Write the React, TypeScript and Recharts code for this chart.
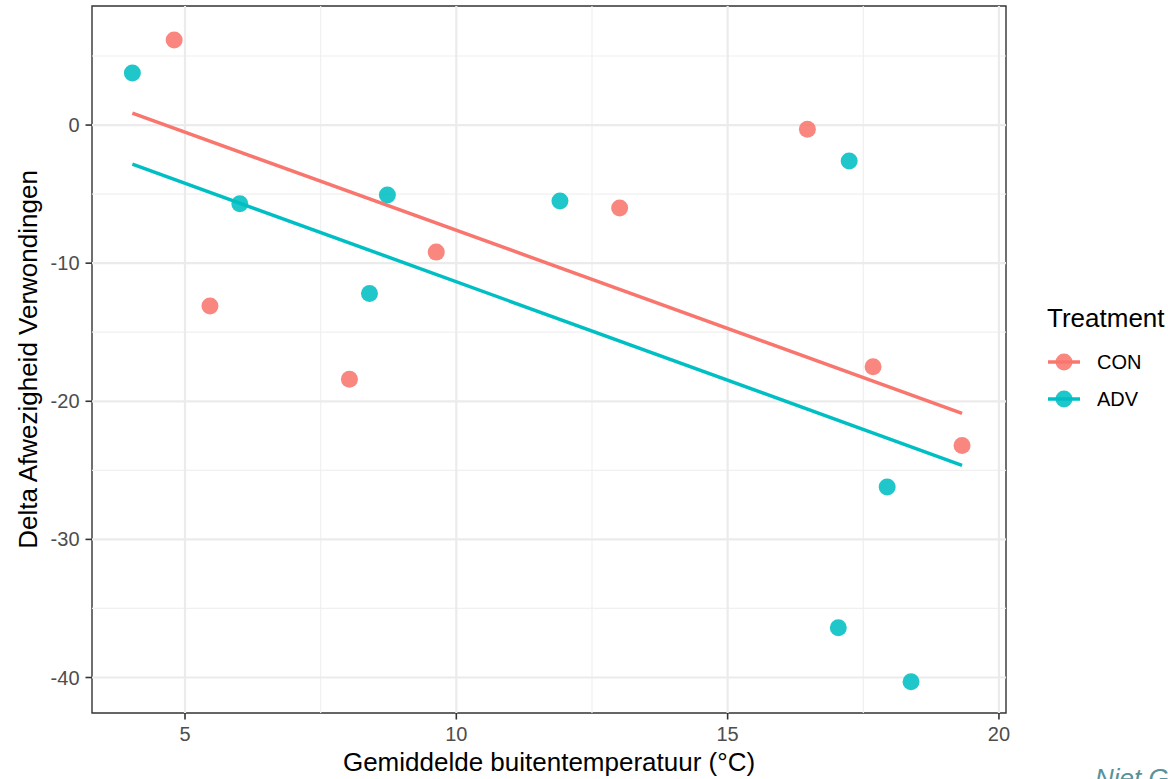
import React from "react";
import {
  ComposedChart,
  Scatter,
  XAxis,
  YAxis,
  ReferenceLine,
  ReferenceArea,
  Label,
} from "recharts";

// ---- data ----
const conPoints = [
  { x: 4.8, y: 6.16 },
  { x: 5.46, y: -13.1 },
  { x: 8.03, y: -18.4 },
  { x: 9.63, y: -9.2 },
  { x: 13.01, y: -6.0 },
  { x: 16.47, y: -0.3 },
  { x: 17.68, y: -17.5 },
  { x: 19.32, y: -23.2 },
];
const advPoints = [
  { x: 4.03, y: 3.77 },
  { x: 6.01, y: -5.7 },
  { x: 8.73, y: -5.07 },
  { x: 8.4, y: -12.2 },
  { x: 11.91, y: -5.5 },
  { x: 17.24, y: -2.6 },
  { x: 17.94, y: -26.2 },
  { x: 17.04, y: -36.4 },
  { x: 18.38, y: -40.3 },
];
const conFit = [
  { x: 4.03, y: 0.87 },
  { x: 19.32, y: -20.87 },
];
const advFit = [
  { x: 4.03, y: -2.83 },
  { x: 19.32, y: -24.64 },
];
const xTicks = [5, 10, 15, 20];
const yTicks = [-40, -30, -20, -10, 0];
const xMinor = [7.5, 12.5, 17.5];
const yMinor = [-35, -25, -15, -5, 5];
const xDomain = [3.286, 20.13];
const yDomain = [-42.57, 8.62];
const seriesNames = ["CON", "ADV"];
const seriesColors = ["#F8766D", "#00BFC4"];
const xTitle = "Gemiddelde buitentemperatuur (°C)";
const yTitle = "Delta Afwezigheid Verwondingen";
const legendTitle = "Treatment";
const watermark = "Niet Gepubliceerd";

const FONT = "'Liberation Sans', Arial, Helvetica, sans-serif";

const dot = (color: string) => (props: any) => (
  <circle cx={props.cx} cy={props.cy} r={8.5} fill={color} fillOpacity={0.88} />
);
const noShape = () => <g />;

export default function App() {
  const W = 1168;
  const H = 779;
  return (
    <div style={{ position: "absolute", left: 0, top: 0, width: W, height: H, background: "#fff", overflow: "hidden" }}>
      <ComposedChart
        width={W}
        height={H}
        margin={{ top: 6, right: 162, bottom: 0, left: 0 }}
        style={{ fontFamily: FONT }}
      >
        <XAxis
          type="number"
          dataKey="x"
          domain={xDomain}
          ticks={xTicks}
          allowDataOverflow
          height={66}
          tickSize={6.5}
          tickMargin={7}
          stroke="#333333"
          tickLine={{ stroke: "#333333", strokeWidth: 1.6 }}
          tick={{ fill: "#4D4D4D", fontSize: 20, fontFamily: FONT }}
          axisLine={false}
        >
          <Label
            content={(p: any) => {
              const vb = p.viewBox;
              return (
                <text
                  x={vb.x + vb.width / 2}
                  y={771}
                  textAnchor="middle"
                  fontSize={26}
                  fontFamily={FONT}
                  fill="#000"
                >
                  {xTitle}
                </text>
              );
            }}
          />
        </XAxis>
        <YAxis
          type="number"
          dataKey="y"
          domain={yDomain}
          ticks={yTicks}
          allowDataOverflow
          width={92}
          tickSize={6.5}
          tickMargin={6}
          stroke="#333333"
          tickLine={{ stroke: "#333333", strokeWidth: 1.6 }}
          tick={{ fill: "#4D4D4D", fontSize: 20, fontFamily: FONT }}
          axisLine={false}
        >
          <Label
            content={(p: any) => {
              const vb = p.viewBox;
              const cx = 37;
              const cy = vb.y + vb.height / 2;
              return (
                <text
                  x={cx}
                  y={cy}
                  textAnchor="middle"
                  transform={`rotate(-90, ${cx}, ${cy})`}
                  fontSize={26}
                  fontFamily={FONT}
                  fill="#000"
                >
                  {yTitle}
                </text>
              );
            }}
          />
        </YAxis>

        {xMinor.map((v) => (
          <ReferenceLine key={"xm" + v} x={v} stroke="#F0F0F0" strokeWidth={1.2} />
        ))}
        {yMinor.map((v) => (
          <ReferenceLine key={"ym" + v} y={v} stroke="#F0F0F0" strokeWidth={1.2} />
        ))}
        {xTicks.map((v) => (
          <ReferenceLine key={"xM" + v} x={v} stroke="#EBEBEB" strokeWidth={2.2} />
        ))}
        {yTicks.map((v) => (
          <ReferenceLine key={"yM" + v} y={v} stroke="#EBEBEB" strokeWidth={2.2} />
        ))}

        <Scatter name="CON" data={conPoints} fill={seriesColors[0]} shape={dot(seriesColors[0])} isAnimationActive={false} />
        <Scatter name="ADV" data={advPoints} fill={seriesColors[1]} shape={dot(seriesColors[1])} isAnimationActive={false} />
        <Scatter
          name="CON fit"
          data={conFit}
          line={{ stroke: seriesColors[0], strokeWidth: 3.5 }}
          shape={noShape}
          isAnimationActive={false}
          legendType="none"
        />
        <Scatter
          name="ADV fit"
          data={advFit}
          line={{ stroke: seriesColors[1], strokeWidth: 3.5 }}
          shape={noShape}
          isAnimationActive={false}
          legendType="none"
        />

        <ReferenceArea
          x1={xDomain[0]}
          x2={xDomain[1]}
          y1={yDomain[0]}
          y2={yDomain[1]}
          fill="none"
          fillOpacity={0}
          stroke="#333333"
          strokeWidth={1.4}
          ifOverflow="visible"
        />
      </ComposedChart>

      {/* legend + watermark overlay */}
      <svg
        width={W}
        height={H}
        style={{ position: "absolute", left: 0, top: 0, pointerEvents: "none", fontFamily: FONT }}
      >
        <text x={1047} y={327} fontSize={26} fill="#000" fontFamily={FONT}>
          {legendTitle}
        </text>
        {seriesNames.map((n, i) => {
          const cy = 362 + i * 37;
          return (
            <g key={n}>
              <line x1={1048} x2={1080} y1={cy} y2={cy} stroke={seriesColors[i]} strokeWidth={3.5} />
              <circle cx={1064} cy={cy} r={8.5} fill={seriesColors[i]} fillOpacity={0.88} />
              <text x={1097} y={cy + 7.2} fontSize={20} fill="#000" fontFamily={FONT}>
                {n}
              </text>
            </g>
          );
        })}
        <text x={1095} y={787} fontSize={26} fontStyle="italic" fill="#56939A" fontFamily={FONT}>
          {watermark}
        </text>
      </svg>
    </div>
  );
}
